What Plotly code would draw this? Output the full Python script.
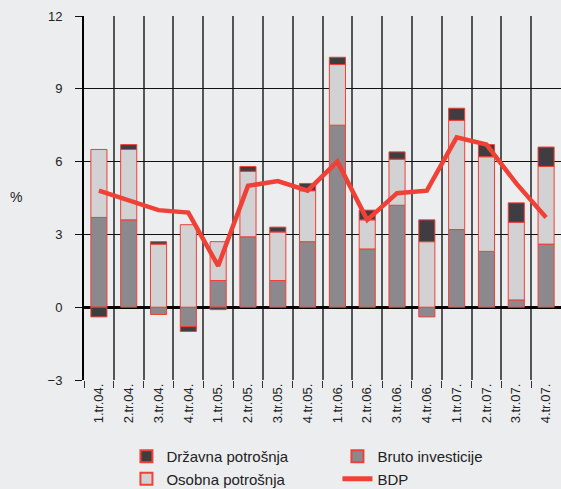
import plotly.graph_objects as go

categories = ["1.tr.04.", "2.tr.04.", "3.tr.04.", "4.tr.04.",
              "1.tr.05.", "2.tr.05.", "3.tr.05.", "4.tr.05.",
              "1.tr.06.", "2.tr.06.", "3.tr.06.", "4.tr.06.",
              "1.tr.07.", "2.tr.07.", "3.tr.07.", "4.tr.07."]

bruto_investicije = [3.7, 3.6, -0.3, -0.8, 1.1, 2.9, 1.1, 2.7,
                     7.5, 2.4, 4.2, -0.4, 3.2, 2.3, 0.3, 2.6]
osobna_potrosnja = [2.8, 2.9, 2.6, 3.4, 1.6, 2.7, 2.0, 2.1,
                    2.5, 1.2, 1.9, 2.7, 4.5, 3.9, 3.2, 3.2]
drzavna_potrosnja = [-0.4, 0.2, 0.1, -0.2, -0.1, 0.2, 0.2, 0.3,
                     0.3, 0.4, 0.3, 0.9, 0.5, 0.5, 0.8, 0.8]
bdp = [4.8, 4.4, 4.0, 3.9, 1.7, 5.0, 5.2, 4.8,
       6.0, 3.6, 4.7, 4.8, 7.0, 6.7, 5.1, 3.7]

y_ticks = [-3, 0, 3, 6, 9, 12]

RED = "#ef4136"
DARK = "#403d42"
MID = "#8b898e"
LIGHT = "#d2d2d4"
BG = "#ecedef"
FONT = "Liberation Sans, Arial, sans-serif"

fig = go.Figure()

bar_line = dict(color=RED, width=1)
bar_w = 0.54

fig.add_trace(go.Bar(x=categories, y=bruto_investicije, name="Bruto investicije",
                     marker=dict(color=MID, line=bar_line), width=bar_w,
                     legendrank=2))
fig.add_trace(go.Bar(x=categories, y=osobna_potrosnja, name="Osobna potrošnja",
                     marker=dict(color=LIGHT, line=bar_line), width=bar_w,
                     legendrank=3))
fig.add_trace(go.Bar(x=categories, y=drzavna_potrosnja, name="Državna potrošnja",
                     marker=dict(color=DARK, line=bar_line), width=bar_w,
                     legendrank=1))
fig.add_trace(go.Scatter(x=categories, y=bdp, name="BDP", mode="lines",
                         line=dict(color=RED, width=4.5), legendrank=4))

fig.update_layout(
    width=561, height=489,
    barmode="relative",
    paper_bgcolor=BG, plot_bgcolor=BG,
    margin=dict(l=84, r=0, t=16, b=109, autoexpand=False),
    font=dict(family=FONT, size=13, color="#222222"),
    showlegend=True,
    legend=dict(orientation="h", x=0.089, xanchor="left", y=-0.165, yanchor="top",
                entrywidth=166, entrywidthmode="pixels",
                font=dict(size=15, family=FONT, color="#222222"),
                bgcolor="rgba(0,0,0,0)", traceorder="normal",
                tracegroupgap=0, itemsizing="constant"),
    annotations=[dict(text="%", xref="paper", yref="paper", x=-0.143, y=0.503,
                      showarrow=False, xanchor="center", yanchor="middle",
                      font=dict(size=14, family=FONT, color="#222222"))],
)

fig.update_xaxes(
    type="category", tickson="boundaries", showgrid=True,
    gridcolor="#555555", gridwidth=1.5,
    ticks="outside", ticklen=7, tickcolor="#333333", tickwidth=1,
    tickangle=-90, tickfont=dict(size=13),
    showline=False, zeroline=False, automargin=False,
    range=[-0.5, 15.5],
)
fig.update_yaxes(
    range=[-3, 12], tickvals=y_ticks, showgrid=True,
    gridcolor="#111111", gridwidth=1,
    zeroline=True, zerolinecolor="#000000", zerolinewidth=2.5,
    ticks="outside", ticklen=7, tickcolor="#111111",
    showline=True, linecolor="#000000", linewidth=2,
    tickfont=dict(size=13), ticklabelstandoff=10, automargin=False,
)

fig.write_html("out.html",
               config={"displayModeBar": False},
               post_script="document.body.style.margin='0';document.body.style.overflow='hidden';")
